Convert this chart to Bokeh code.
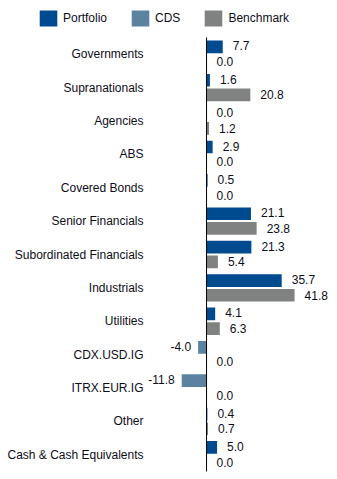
from bokeh.plotting import figure
from bokeh.models import ColumnDataSource, Legend, LegendItem, Range1d
from bokeh.transform import dodge
from bokeh.core.properties import value
from bokeh.embed import file_html
from bokeh.resources import INLINE

categories = ["Governments", "Supranationals", "Agencies", "ABS", "Covered Bonds",
              "Senior Financials", "Subordinated Financials", "Industrials", "Utilities",
              "CDX.USD.IG", "ITRX.EUR.IG", "Other", "Cash & Cash Equivalents"]
portfolio = [7.7, 1.6, 0.0, 2.9, 0.5, 21.1, 21.3, 35.7, 4.1, None, None, 0.4, 5.0]
cds = [None, None, None, None, None, None, None, None, None, -4.0, -11.8, None, None]
benchmark = [0.0, 20.8, 1.2, 0.0, 0.0, 23.8, 5.4, 41.8, 6.3, 0.0, 0.0, 0.7, 0.0]
series_names = ["Portfolio", "CDS", "Benchmark"]

C_PORT = "#004A90"
C_CDS = "#5B83A0"
C_BENCH = "#808282"
FONT = "Liberation Sans"
TXT = "#0d0d1a"

n = len(categories)
band_px = 434 / n          # pixel height of one category band
top_px, bottom_px = 37, 8  # space above first / below last category


def make_source(vals):
    ys, vs = [], []
    for i, v in enumerate(vals):
        if v is not None:
            ys.append(i + 0.5)
            vs.append(v)
    return ColumnDataSource(dict(y=ys, val=vs, lab=["%.1f" % v for v in vs]))


src_p = make_source(portfolio)
src_c = make_source(cds)
src_b = make_source(benchmark)
src_cat = ColumnDataSource(dict(y=[i + 0.5 for i in range(n)], name=categories,
                                zero=[0] * n))

p = figure(width=337, height=479, output_backend="svg", toolbar_location=None,
           x_range=Range1d(-97.86, 62.2),
           y_range=Range1d(n + bottom_px / band_px, -top_px / band_px),
           x_axis_location=None, y_axis_location=None,
           min_border_left=0, min_border_right=0, min_border_top=0, min_border_bottom=0)
p.outline_line_color = None
p.xgrid.visible = False
p.ygrid.visible = False

H = 0.38
OFF = 0.22

r_p = p.hbar(y=dodge("y", -OFF), right="val", left=0, height=H,
             source=src_p, fill_color=C_PORT, line_color=None)
r_c = p.hbar(y=dodge("y", -OFF), right="val", left=0, height=H,
             source=src_c, fill_color=C_CDS, line_color=None)
r_b = p.hbar(y=dodge("y", OFF), right="val", left=0, height=H,
             source=src_b, fill_color=C_BENCH, line_color=None)

common = dict(text="lab", text_font=value(FONT), text_font_size="12px",
              text_color=TXT, text_baseline="middle")
p.text(x="val", y=dodge("y", -OFF), source=src_p,
       text_align="left", x_offset=10, y_offset=-1, **common)
p.text(x="val", y=dodge("y", -OFF), source=src_c,
       text_align="right", x_offset=-7, y_offset=-1, **common)
p.text(x="val", y=dodge("y", OFF), source=src_b,
       text_align="left", x_offset=10, y_offset=0, **common)

# category labels
p.text(x="zero", y="y", text="name", source=src_cat, text_align="right",
       text_baseline="middle", x_offset=-63, text_font=value(FONT),
       text_font_size="12px", text_color=TXT)

# vertical zero line spanning the category area
p.segment(x0=[0], y0=[0], x1=[0], y1=[n], line_color="black", line_width=1)

legend = Legend(items=[LegendItem(label=nm, renderers=[r])
                       for nm, r in zip(series_names, [r_p, r_c, r_b])],
                orientation="horizontal", location=(37, 451),
                glyph_width=22, glyph_height=20, label_height=20,
                label_standoff=4, spacing=22, padding=0, margin=0,
                border_line_color=None, background_fill_alpha=0,
                label_text_font=FONT, label_text_font_size="12px",
                label_text_color=TXT)
p.add_layout(legend, "center")

open("out.html", "w").write(file_html(p, INLINE))
